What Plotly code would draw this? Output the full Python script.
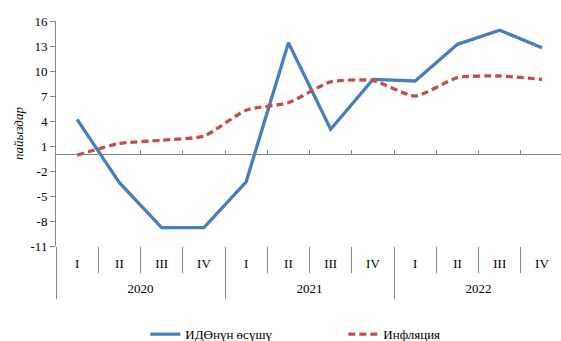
import plotly.graph_objects as go

# Quarterly series, 2020–2022
year_labels = ["2020", "2021", "2022"]
quarters = ["I", "II", "III", "IV"] * 3
gdp_growth = [4.2, -3.4, -8.8, -8.8, -3.3, 13.4, 3.0, 9.0, 8.8, 13.2, 14.9, 12.8]
inflation = [-0.1, 1.3, 1.7, 2.2, 5.3, 6.2, 8.7, 8.85, 7.0, 9.2, 9.4, 9.0]
y_ticks = [-11, -8, -5, -2, 1, 4, 7, 10, 13, 16]
y_tick_text = [str(v) for v in y_ticks]  # plain hyphen for negatives

FONT = "Liberation Serif"
AXIS_GREY = "#868686"

n = len(quarters)
pos = list(range(n))                       # category slots
per_year = n // len(year_labels)
q_bounds = [i + 0.5 for i in range(n - 1)]                       # between quarters
y_bounds = [k * per_year - 0.5 for k in range(len(year_labels))]  # year group edges
y_centers = [k * per_year + (per_year - 1) / 2 for k in range(len(year_labels))]

fig = go.Figure()

fig.add_trace(go.Scatter(
    x=pos, y=gdp_growth, name="ИДӨнүн өсүшү",
    mode="lines", line=dict(color="#4a7ebb", width=3.3),
))
fig.add_trace(go.Scatter(
    x=pos, y=inflation, name="Инфляция",
    mode="lines", line=dict(color="#c0504d", width=3.3, dash="7px,4px", shape="spline", smoothing=0.6),
))

# Helper axes: zero-line ticks (x2) and the year row (x3)
for ax in ("x2", "x3"):
    fig.add_trace(go.Scatter(x=[0], y=[None], xaxis=ax, yaxis="y", showlegend=False,
                             hoverinfo="skip", mode="lines"))

y_min, y_max = -11, 16
x_range = [-0.5, n - 0.55]
fig.update_layout(
    width=561, height=341,
    margin=dict(l=56, r=0, t=21, b=95),
    paper_bgcolor="white", plot_bgcolor="white",
    font=dict(family=FONT, size=13, color="black"),
    showlegend=True,
    legend=dict(
        orientation="h", xref="container", yref="container",
        x=0.259, y=0.02, xanchor="left", yanchor="middle",
        entrywidth=153, entrywidthmode="pixels",
        font=dict(family=FONT, size=13),
    ),
    xaxis=dict(
        range=x_range, tickmode="array", tickvals=pos, ticktext=quarters,
        ticks="", ticklabelstandoff=8,
        showline=False, showgrid=False, zeroline=False,
        minor=dict(tickmode="array", tickvals=q_bounds, ticks="outside",
                   ticklen=26, tickcolor=AXIS_GREY, tickwidth=1, showgrid=False),
        tickfont=dict(family=FONT, size=13),
    ),
    xaxis3=dict(
        overlaying="x", anchor="y", side="bottom", range=x_range,
        tickmode="array", tickvals=y_centers, ticktext=year_labels,
        ticks="", ticklabelstandoff=33,
        showline=False, showgrid=False, zeroline=False,
        minor=dict(tickmode="array", tickvals=y_bounds, ticks="outside",
                   ticklen=52, tickcolor=AXIS_GREY, tickwidth=1, showgrid=False),
        tickfont=dict(family=FONT, size=13),
    ),
    xaxis2=dict(
        overlaying="x", anchor="free", position=(0 - y_min) / (y_max - y_min),
        range=x_range, tickmode="array", tickvals=q_bounds,
        ticks="inside", ticklen=4, tickcolor=AXIS_GREY,
        showticklabels=False, showline=False, showgrid=False, zeroline=False,
    ),
    yaxis=dict(
        range=[y_min, y_max], tickvals=y_ticks, ticktext=y_tick_text,
        ticks="outside", ticklen=5, tickcolor=AXIS_GREY,
        showline=True, linecolor=AXIS_GREY, linewidth=1,
        showgrid=False, zeroline=True, zerolinecolor=AXIS_GREY, zerolinewidth=1,
        title=dict(text="<i>пайыздар</i>", font=dict(family=FONT, size=13), standoff=3),
        tickfont=dict(family=FONT, size=13),
    ),
)

fig.write_html("out.html")
